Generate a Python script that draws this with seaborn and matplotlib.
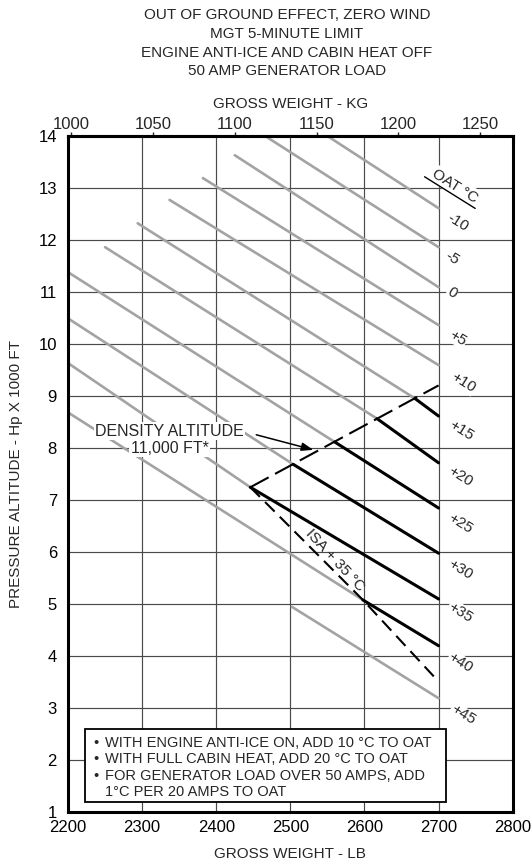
import numpy as np
import pandas as pd
import matplotlib
matplotlib.use("Agg")
import matplotlib.pyplot as plt
import matplotlib.transforms as mtransforms
from matplotlib.lines import Line2D
from matplotlib.patches import Rectangle
import seaborn as sns

# OAT lines (lb, thousands of ft)
oat_labels = ["-10", "-5", "0", "+5", "+10", "+15", "+20", "+25", "+30", "+35", "+40", "+45"]
start_lb = [2550, 2466, 2425, 2382, 2337, 2294, 2250, 2200, 2200, 2200, 2200, 2502]
start_alt = [14.0, 14.0, 13.63, 13.19, 12.77, 12.32, 11.86, 11.38, 10.49, 9.63, 8.68, 4.94]
end_lb = [2700] * 12
end_alt = [12.61, 11.86, 11.09, 10.36, 9.59, 8.61, 7.71, 6.84, 5.97, 5.09, 4.19, 3.18]
# point where a line turns heavy (on the density altitude / ISA+35 limit), nan = light only
limit_lb = [np.nan] * 5 + [2668, 2617, 2560, 2504, 2446, 2598] + [np.nan]
limit_alt = [np.nan] * 5 + [8.95, 8.56, 8.11, 7.68, 7.24, 5.07] + [np.nan]

# OAT label positions at the right of the 2700 lb line
label_lb = [2726, 2718, 2718, 2726, 2733, 2731, 2729, 2729, 2729, 2730, 2730, 2733]
label_alt = [12.33, 11.65, 10.98, 10.11, 9.25, 8.34, 7.44, 6.55, 5.65, 4.84, 3.86, 2.86]

# limit lines
da_lb = [2446, 2700]
da_alt = [7.24, 9.20]
isa_lb = [2446, 2598, 2700]
isa_alt = [7.24, 5.07, 3.50]

lb_ticks = [2200, 2300, 2400, 2500, 2600, 2700, 2800]
alt_ticks = list(range(1, 15))
kg_ticks = [1000, 1050, 1100, 1150, 1200, 1250]

title_lines = ["OUT OF GROUND EFFECT, ZERO WIND", "MGT 5-MINUTE LIMIT",
               "ENGINE ANTI-ICE AND CABIN HEAT OFF", "50 AMP GENERATOR LOAD"]
notes = ["WITH ENGINE ANTI-ICE ON, ADD 10 \u00b0C TO OAT",
         "WITH FULL CABIN HEAT, ADD 20 \u00b0C TO OAT",
         "FOR GENERATOR LOAD OVER 50 AMPS, ADD",
         "1\u00b0C PER 20 AMPS TO OAT"]

sns.set_style("white")
plt.rcParams["font.family"] = ["Liberation Sans", "DejaVu Sans"]

# split every OAT line into its light and heavy parts
grey_rows, black_rows = [], []
for i, lab in enumerate(oat_labels):
    grey_rows.append((lab, start_lb[i], start_alt[i]))
    if np.isnan(limit_lb[i]):
        grey_rows.append((lab, end_lb[i], end_alt[i]))
    else:
        grey_rows.append((lab, limit_lb[i], limit_alt[i]))
        black_rows.append((lab, limit_lb[i], limit_alt[i]))
        black_rows.append((lab, end_lb[i], end_alt[i]))
grey_df = pd.DataFrame(grey_rows, columns=["oat", "lb", "alt"])
black_df = pd.DataFrame(black_rows, columns=["oat", "lb", "alt"])

fig = plt.figure(figsize=(5.32, 8.61), dpi=100)
ax = fig.add_axes([68 / 532, 1 - 811.5 / 861, 444.7 / 532, 675.5 / 861])

ax.set_xlim(2200, 2800)
ax.set_ylim(1, 14)
ax.set_xticks(lb_ticks)
ax.set_yticks(alt_ticks)
ax.grid(True, color="#4a4a4a", lw=0.85)
ax.set_axisbelow(True)

sns.lineplot(data=grey_df, x="lb", y="alt", units="oat", estimator=None, sort=False,
             color="#a3a3a3", lw=1.9, ax=ax, zorder=2)
sns.lineplot(data=black_df, x="lb", y="alt", units="oat", estimator=None, sort=False,
             color="black", lw=2.2, ax=ax, zorder=3)
sns.lineplot(x=da_lb, y=da_alt, color="black", lw=1.5, linestyle=(0, (10, 3.5)),
             ax=ax, zorder=3)
sns.lineplot(x=isa_lb, y=isa_alt, color="black", lw=1.5, linestyle=(0, (6.5, 3.5)),
             ax=ax, zorder=3)

# OAT labels
for lab, x, y in zip(oat_labels, label_lb, label_alt):
    ax.text(x, y, lab, rotation=-32, ha="center", va="center", fontsize=11,
            rotation_mode="anchor", zorder=4,
            bbox=dict(fc="white", ec="none", pad=0.6))

ax.text(2722, 13.04, "OAT \u00b0C", rotation=-32, rotation_mode="anchor",
        ha="center", va="center", fontsize=11, zorder=4,
        bbox=dict(fc="white", ec="none", pad=1.5))
# underline for the OAT heading, drawn in the text's own frame (points)
ul_trans = (mtransforms.Affine2D().rotate_deg(-32).scale(1 / 72)
            + fig.dpi_scale_trans
            + mtransforms.ScaledTranslation(2722, 13.04, ax.transData))
ax.add_artist(Line2D([-22, 21], [-6, -6], transform=ul_trans, color="black",
                     lw=1.0, clip_on=False, zorder=5))

# density altitude callout
ax.text(2337, 8.32, "DENSITY ALTITUDE", ha="center", va="center", fontsize=11.5,
        zorder=4, bbox=dict(fc="white", ec="none", pad=1.0))
ax.text(2337, 7.99, "11,000 FT*", ha="center", va="center", fontsize=11.5,
        zorder=4, bbox=dict(fc="white", ec="none", pad=1.0))
ax.annotate("", xy=(2531, 7.96), xytext=(2454, 8.25), zorder=5,
            arrowprops=dict(arrowstyle="-|>,head_length=0.7,head_width=0.25",
                            color="black", lw=1.1, shrinkA=0, shrinkB=0))

ax.text(2560, 5.84, "ISA + 35 \u00b0C", rotation=-47, rotation_mode="anchor",
        ha="center", va="center", fontsize=11, zorder=4)

# notes box
ax.add_patch(Rectangle((0.038, 0.014), 0.812, 0.108, transform=ax.transAxes,
                       fc="white", ec="black", lw=1.3, zorder=5))
note_y = [0.102, 0.0775, 0.053, 0.0285]
for i, (txt, y) in enumerate(zip(notes, note_y)):
    if i < 3:
        ax.text(0.064, y, "\u2022", transform=ax.transAxes, ha="center", va="center",
                fontsize=10.5, zorder=6)
    ax.text(0.083, y, txt, transform=ax.transAxes, ha="left", va="center",
            fontsize=10.5, zorder=6)

# axes styling
for s in ax.spines.values():
    s.set_linewidth(2.2)
    s.set_color("black")
ax.tick_params(axis="both", length=0, labelsize=12, colors="black")
ax.tick_params(axis="x", pad=6)
ax.tick_params(axis="y", pad=8)
ax.set_xlabel("GROSS WEIGHT - LB", fontsize=11, labelpad=9)
ax.set_ylabel("PRESSURE ALTITUDE - Hp X 1000 FT", fontsize=11, labelpad=11)

secax = ax.secondary_xaxis("top", functions=(lambda x: x / 2.20462, lambda x: x * 2.20462))
secax.set_xticks(kg_ticks)
secax.tick_params(axis="x", direction="out", length=3, width=1, labelsize=12, pad=0)
secax.spines["top"].set_linewidth(2.2)
secax.set_xlabel("GROSS WEIGHT - KG", fontsize=11, labelpad=6)

title_y = [15.3, 34.0, 53.3, 71.3]
for txt, y in zip(title_lines, title_y):
    fig.text(287 / 532, 1 - y / 861, txt, ha="center", va="center", fontsize=11)

fig.savefig("out.png", dpi=100)
